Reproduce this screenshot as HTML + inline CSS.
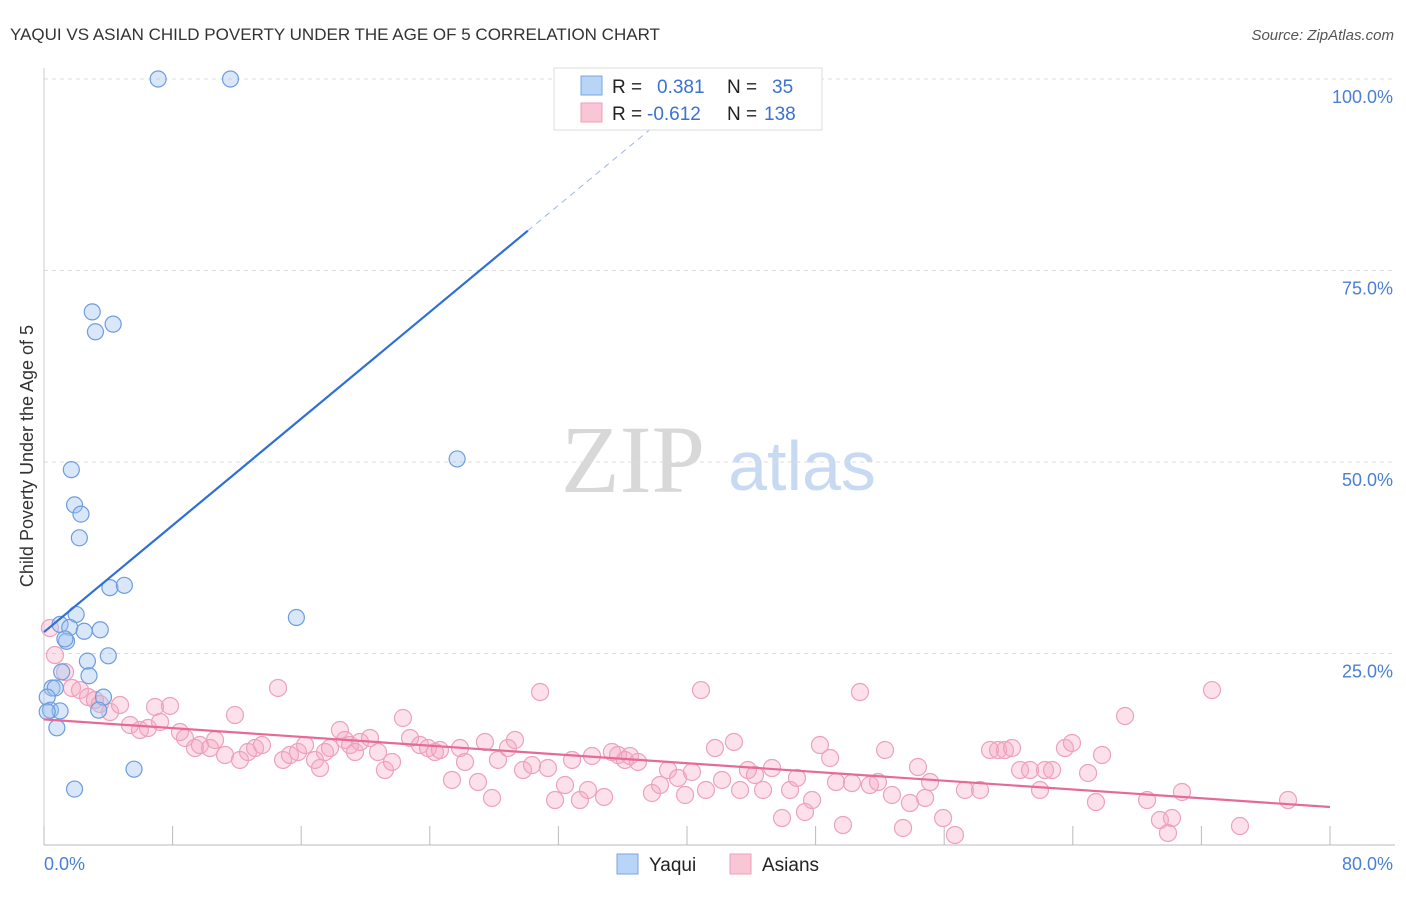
<!DOCTYPE html>
<html><head><meta charset="utf-8"><style>
body{margin:0;background:#fff;font-family:"Liberation Sans",sans-serif}
</style></head><body>
<svg id="c" width="1406" height="892" xmlns="http://www.w3.org/2000/svg">
<text x="10" y="40" font-size="17" fill="#333">YAQUI VS ASIAN CHILD POVERTY UNDER THE AGE OF 5 CORRELATION CHART</text>
<text x="1394" y="40" font-size="15" fill="#555" font-style="italic" text-anchor="end">Source: ZipAtlas.com</text>
<text x="633" y="492" font-size="96" fill="#d8d8d8" font-family="Liberation Serif,serif" text-anchor="middle">ZIP</text>
<text x="802" y="490" font-size="70" fill="#c8daf2" text-anchor="middle">atlas</text>
<text transform="translate(33,456) rotate(-90)" font-size="18" fill="#333" text-anchor="middle">Child Poverty Under the Age of 5</text>
<g id="grid"></g><g id="pts"></g><g id="lines"></g>
<g>
<rect x="554" y="68" width="268" height="62" fill="#fff" stroke="#ddd"/>
<rect x="581" y="76" width="21" height="19" fill="#b8d4f6" stroke="#7aa6e0"/>
<rect x="581" y="103" width="21" height="19" fill="#f9c6d6" stroke="#eba0ba"/>
<text x="612" y="93" font-size="19" fill="#222">R =</text><text x="657" y="93" font-size="19" fill="#3a72d0">0.381</text>
<text x="727" y="93" font-size="19" fill="#222">N =</text><text x="772" y="93" font-size="19" fill="#3a72d0">35</text>
<text x="612" y="120" font-size="19" fill="#222">R =</text><text x="647" y="120" font-size="19" fill="#3a72d0">-0.612</text>
<text x="727" y="120" font-size="19" fill="#222">N =</text><text x="764" y="120" font-size="19" fill="#3a72d0">138</text>
</g>
<g>
<rect x="617" y="854" width="21" height="20" fill="#b8d4f6" stroke="#7aa6e0"/><text x="649" y="871" font-size="19" fill="#222">Yaqui</text>
<rect x="730" y="854" width="21" height="20" fill="#f9c6d6" stroke="#eba0ba"/><text x="762" y="871" font-size="19" fill="#222">Asians</text>
</g>
</svg>
<script>
const xTicks=[0,10,20,30,40,50,60,70,80];
const yTicks=[25,50,75,100];
const yaquiX=[7.1,11.6,3.0,3.2,4.3,1.7,25.7,1.9,2.3,2.2,4.1,5.0,15.7,2.0,1.0,1.6,2.5,3.5,1.4,2.7,4.0,1.1,2.8,0.5,0.7,3.7,0.2,0.4,1.0,0.2,3.4,0.8,5.6,1.9,1.3];
const yaquiY=[100,100,69.6,67.0,68.0,49.0,50.4,44.4,43.2,40.1,33.6,33.9,29.7,30.1,28.8,28.4,27.9,28.1,26.6,24.0,24.7,22.6,22.1,20.5,20.5,19.3,19.3,17.6,17.5,17.4,17.6,15.3,9.9,7.3,26.9];
const asianPx=[50,55,65,72,80,88,95,100,110,120,130,140,148,155,160,170,180,185,195,200,210,215,225,235,240,248,255,262,278,283,290,298,305,315,320,325,330,340,345,350,355,360,370,378,385,392,403,410,420,428,435,440,452,460,465,478,485,492,498,508,515,523,532,540,548,555,565,572,580,588,592,604,612,618,625,630,638,652,660,668,678,685,692,701,706,715,722,734,740,748,755,763,772,782,790,797,805,812,820,830,836,843,852,860,870,878,885,892,903,910,918,925,930,943,955,965,980,990,998,1005,1012,1020,1030,1040,1045,1052,1065,1072,1088,1096,1102,1125,1147,1160,1168,1172,1182,1212,1240,1288];
const asianPy=[628,655,672,688,690,697,700,704,712,705,725,730,728,707,722,706,732,738,748,745,748,740,755,715,760,752,748,745,688,760,755,752,745,760,768,752,748,730,740,745,752,742,738,752,770,762,718,738,745,748,752,750,780,748,762,782,742,798,760,748,740,770,765,692,768,800,785,760,800,790,756,797,752,755,760,756,762,793,785,770,778,795,772,690,790,748,780,742,790,770,775,790,768,818,790,778,812,800,745,758,782,825,783,692,785,782,750,795,828,803,767,798,782,818,835,790,790,750,750,750,748,770,770,790,770,770,748,743,773,802,755,716,800,820,833,818,792,690,826,800];
// converted to data units
const asianX=asianPx.map(p=>+((p-44)/16.075).toFixed(2));
const asianY=asianPy.map(p=>+((845-p)/7.66).toFixed(2));
const yaquiTrend=[[0,27.8],[30.1,80.2]];
const yaquiDash=[[30.1,80.2],[38.5,94.8]];
const asianTrend=[[0,16.4],[80,4.96]];
const X=v=>44+v*16.075, Y=v=>845-v*7.66;
const NS='http://www.w3.org/2000/svg';
function mk(t,a,parent){const e=document.createElementNS(NS,t);for(const k in a)e.setAttribute(k,a[k]);document.getElementById(parent).appendChild(e);return e;}
yTicks.forEach(t=>{
 const l=mk('line',{x1:44,x2:1395,y1:Y(t),y2:Y(t),stroke:'#ddd','stroke-dasharray':'4,4'},'grid');
 
 
 const tx=mk('text',{x:1393,y:Y(t)+24,'font-size':18,fill:'#4a7fd6','text-anchor':'end'},'grid');
 tx.textContent=t.toFixed(1)+'%';
 
 
});
const ax=mk('line',{x1:44,x2:1395,y1:845,y2:845,stroke:'#bbb'},'grid');


const ay=mk('line',{x1:44,x2:44,y1:68,y2:845,stroke:'#ccc'},'grid');


for(let i=0;i<=10;i++){const t=mk('line',{x1:X(i*8),x2:X(i*8),y1:826,y2:845,stroke:'#bbb'},'grid');
 
 }
[[0,'0.0%','start',44],[80,'80.0%','end',1393]].forEach(d=>{const t=mk('text',{x:d[3],y:870,'font-size':18,fill:'#4a7fd6','text-anchor':d[2]},'grid');t.textContent=d[1];
 
 });
asianX.forEach((x,i)=>{const c=mk('circle',{cx:X(x),cy:Y(asianY[i]),r:8.5,fill:'rgba(245,170,195,0.35)',stroke:'#eca2bc','stroke-width':1.2},'pts');
 
 });
yaquiX.forEach((x,i)=>{const c=mk('circle',{cx:X(x),cy:Y(yaquiY[i]),r:8,fill:'rgba(160,195,240,0.4)',stroke:'#6d9de0','stroke-width':1.2},'pts');
 
 });
const l1=mk('line',{x1:X(yaquiTrend[0][0]),y1:Y(yaquiTrend[0][1]),x2:X(yaquiTrend[1][0]),y2:Y(yaquiTrend[1][1]),stroke:'#2e6fd6','stroke-width':2.2},'lines');


const l2=mk('line',{x1:X(yaquiDash[0][0]),y1:Y(yaquiDash[0][1]),x2:X(yaquiDash[1][0]),y2:Y(yaquiDash[1][1]),stroke:'#9ab8e4','stroke-width':1,'stroke-dasharray':'6,5'},'lines');


const l3=mk('line',{x1:X(asianTrend[0][0]),y1:Y(asianTrend[0][1]),x2:X(asianTrend[1][0]),y2:Y(asianTrend[1][1]),stroke:'#e56a98','stroke-width':2.2},'lines');


</script>
</body></html>
